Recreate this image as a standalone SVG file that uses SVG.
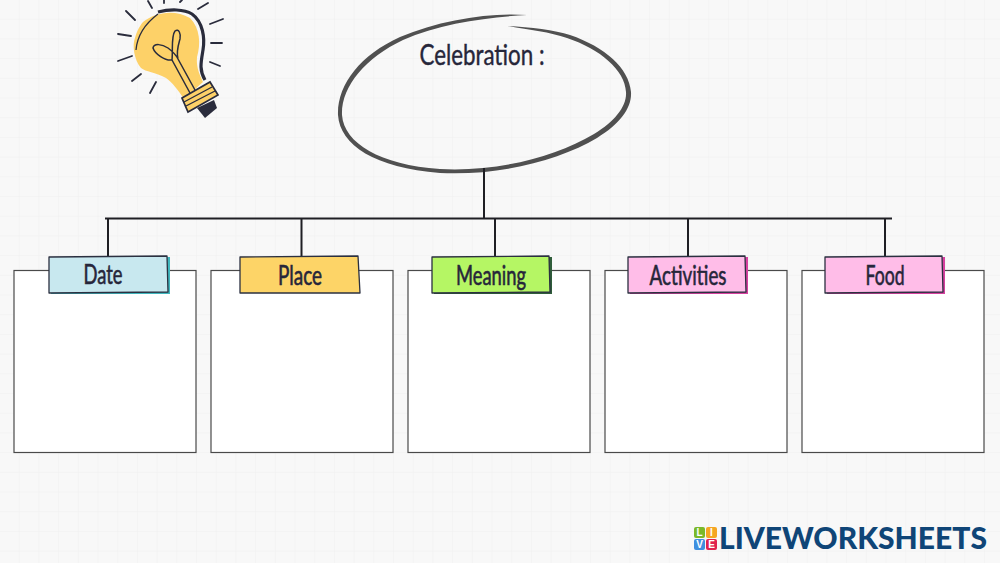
<svg xmlns="http://www.w3.org/2000/svg" width="1000" height="563" viewBox="0 0 1000 563">
<style>
.box{fill:#fff;stroke:#4a4a4a;stroke-width:1.2}
.conn{stroke:#1f1f24;stroke-width:2;fill:none}
.lbl{font-family:"Lato","Liberation Sans",sans-serif;font-size:26px;fill:#26263a;text-anchor:middle;stroke:#26263a;stroke-width:.6}
.tab{stroke:#2b3040;stroke-width:1.3;stroke-linejoin:round}
.ray{stroke:#2a2c3c;stroke-width:1.8;stroke-linecap:round;fill:none}
.tile{font-family:"Liberation Sans",sans-serif;font-size:10px;font-weight:700;fill:#fff;text-anchor:middle}
</style>
<defs>
<pattern id="grid" width="19.7" height="19.7" patternUnits="userSpaceOnUse"><path d="M19.7 0V19.7H0" fill="none" stroke="#f0f0f0" stroke-width="1"/></pattern>
</defs>
<rect width="1000" height="563" fill="#f8f8f8"/>
<rect width="1000" height="563" fill="url(#grid)"/>

<g id="bulb">
<path class="ray" d="M148 1L152 8M164 0V3M182 0L180 2M198 9L208 3M210 24L223 19M211 43H222M210 62L220 66M126 11L135 20M118 34L131 36M118 61L132 56M132 81L141 74M150 93L156 82"/>
<path d="M143 22C155 12 175 9 190 18C200 28 201 44 197 57C196 68 200 75 203 82L184 99C178 90 172 82 166 78C155 72 146 72 141 68C134 60 132 45 135 38C137 31 139 27 143 22Z" fill="#fdd168"/>
<path d="M136 50C137 38 142 26 158 14" fill="none" stroke="#2a2c3c" stroke-width="1.3"/>
<path d="M158 12C170 9 184 9 192 14C203 22 205 38 203 50C201 62 199 70 205 80" fill="none" stroke="#2a2c3c" stroke-width="3.2"/>
<path d="M190 93L172 60C165 61 155 54 153 48C154 43 162 44 168 48C172 51 176 55 178 59L195 90M172 60C173 50 171 36 175 31C179 28 181 34 180 39C178 46 176 52 178 59" fill="none" stroke="#2a2c3c" stroke-width="1.5"/>
<path d="M182 98L210 82L218 95L188 112Z" fill="#fdd168" stroke="#2a2c3c" stroke-width="1.7"/>
<path d="M184 102L212 87M186 106L215 91" stroke="#2a2c3c" stroke-width="1.4" fill="none"/>
<path d="M197 108L214 100L217 108L205 118Z" fill="#2a2c3c"/>
</g>

<g id="celebration">
<path d="M527 15C490 12 440 20 400 37C360 55 337 85 338 115C340 145 375 168 440 173C500 176 560 160 597 138C620 124 632 108 631 92C629 68 605 47 570 35C555 30 530 27 508 26C530 30 550 32 567 38C600 49 625 70 626 92C627 106 615 121 594 134C555 157 498 172 440 169C380 165 344 143 342 115C341 87 365 58 403 40C440 23 490 17 527 15Z" fill="#505050"/>
<text x="482" y="65" font-family="Lato,'Liberation Sans',sans-serif" font-size="28" fill="#26263a" text-anchor="middle" stroke="#26263a" stroke-width=".4" textLength="125" lengthAdjust="spacingAndGlyphs">Celebration :</text>
</g>

<g id="connectors">
<path class="conn" d="M484 168V218M105 218.500H892M108 218V258M301.500 218V258M495 218V258M688 218V258M885 218V258"/>
</g>

<g id="node-date">
<rect class="box" x="14" y="270.500" width="182" height="182"/>
<path d="M51 258L170 257L170 294L51 294Z" fill="#3fb6bd"/>
<path class="tab" d="M49 257L167 256L168 292L49 293Z" fill="#c8e8ef"/>
<text class="lbl" x="103" y="284" textLength="39" lengthAdjust="spacingAndGlyphs">Date</text>
</g>
<g id="node-place">
<rect class="box" x="211" y="270.500" width="182" height="182"/>
<path class="tab" d="M240 257L358 256L360 293L240 293Z" fill="#fdd467"/>
<text class="lbl" x="300" y="285" textLength="44" lengthAdjust="spacingAndGlyphs">Place</text>
</g>
<g id="node-meaning">
<rect class="box" x="408" y="270.500" width="182" height="182"/>
<path d="M434 258L552 257L552 294L434 294Z" fill="#2f5d3a"/>
<path class="tab" d="M432 257L549 256L550 292L432 293Z" fill="#b5f664"/>
<text class="lbl" x="491" y="285" textLength="70" lengthAdjust="spacingAndGlyphs">Meaning</text>
</g>
<g id="node-activities">
<rect class="box" x="605" y="270.500" width="182" height="182"/>
<path d="M630 258L748 257L748 294L630 294Z" fill="#d6409f"/>
<path class="tab" d="M628 257L745 256L746 292L628 293Z" fill="#ffbde8"/>
<text class="lbl" x="688" y="285" textLength="77" lengthAdjust="spacingAndGlyphs">Activities</text>
</g>
<g id="node-food">
<rect class="box" x="802" y="270.500" width="182" height="182"/>
<path d="M827 258L945 257L945 294L827 294Z" fill="#d6409f"/>
<path class="tab" d="M825 257L942 256L943 292L825 293Z" fill="#ffbde8"/>
<text class="lbl" x="885" y="285" textLength="39" lengthAdjust="spacingAndGlyphs">Food</text>
</g>

<g id="logo">
<rect x="694" y="527" width="11" height="11" rx="2" fill="#7ab929"/>
<rect x="706" y="527" width="11" height="11" rx="2" fill="#f5a623"/>
<rect x="694" y="539" width="11" height="11" rx="2" fill="#3f8fe0"/>
<rect x="706" y="539" width="11" height="11" rx="2" fill="#e0224e"/>
<text class="tile" x="699.500" y="536">L</text>
<text class="tile" x="711.500" y="536">I</text>
<text class="tile" x="699.500" y="548">V</text>
<text class="tile" x="711.500" y="548">E</text>
<text x="719" y="549" font-family="Lato,'Liberation Sans',sans-serif" font-weight="900" font-size="31" fill="#0f4577" textLength="268" lengthAdjust="spacingAndGlyphs">LIVEWORKSHEETS</text>
</g>
</svg>
